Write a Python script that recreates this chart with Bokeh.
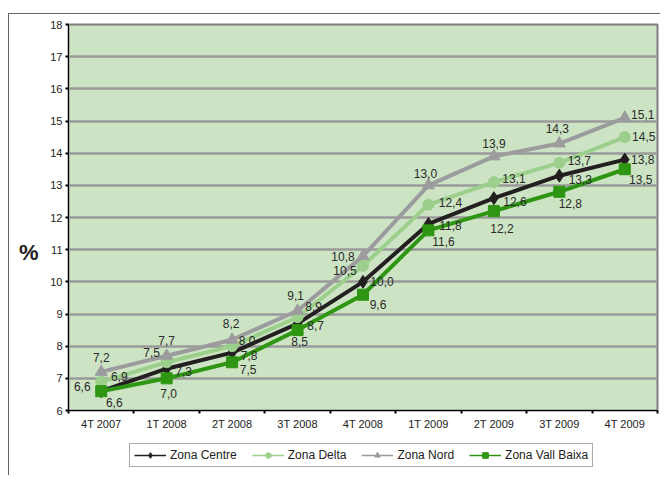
from bokeh.plotting import figure
from bokeh.models import FixedTicker, Legend, LegendItem, ColumnDataSource, LinearAxis
from bokeh.layouts import column
from bokeh.core.properties import value
from bokeh.embed import file_html
from bokeh.resources import INLINE

categories = ["4T 2007", "1T 2008", "2T 2008", "3T 2008", "4T 2008",
              "1T 2009", "2T 2009", "3T 2009", "4T 2009"]
centre = [6.6, 7.3, 7.8, 8.7, 10.0, 11.8, 12.6, 13.3, 13.8]
delta = [6.9, 7.5, 8.0, 8.9, 10.5, 12.4, 13.1, 13.7, 14.5]
nord = [7.2, 7.7, 8.2, 9.1, 10.8, 13.0, 13.9, 14.3, 15.1]
vall_baixa = [6.6, 7.0, 7.5, 8.5, 9.6, 11.6, 12.2, 12.8, 13.5]
y_ticks = list(range(6, 19))
y_title = "%"

# label placement (pixels, screen offsets)
off_centre = [(13, 11), (17, 3), (17, 3), (18, 2), (19, 0), (22, 2), (21, 3), (21, 4), (18, 0)]
off_delta = [(18, -5), (-15, -10), (15, -6), (16, -11), (-18, 5), (22, -2), (20, -4), (20, -2), (19, -1)]
off_nord = [(0, -14), (0, -15), (-1, -16), (-2, -15), (-20, 0), (-3, -12), (0, -13), (-2, -15), (18, -3)]
off_vall = [(-19, -5), (2, 15), (16, 7), (2, 11), (15, 10), (15, 11), (8, 17), (11, 12), (16, 10)]
title_pos = 10.9  # vertical placement of the "%" title, in axis units

FONT = "Liberation Sans"

xs = [i + 0.5 for i in range(len(categories))]

p = figure(width=651, height=426, output_backend="svg", toolbar_location=None,
           x_range=(0, len(categories)), y_range=(6, 18),
           min_border_left=59, min_border_top=10, min_border_right=3, min_border_bottom=30,
           background_fill_color="#cce4c3", border_fill_color="white")
p.outline_line_color = "#7f7f7f"
p.outline_line_width = 2

# axes
p.xaxis.ticker = FixedTicker(ticks=xs, minor_ticks=list(range(len(categories) + 1)))
p.xaxis.major_label_overrides = {x: c for x, c in zip(xs, categories)}
p.xaxis.major_tick_line_color = None
p.xaxis.major_tick_out = 0
p.xaxis.major_tick_in = 0
p.xaxis.minor_tick_line_color = "black"
p.xaxis.minor_tick_line_width = 2
p.xaxis.minor_tick_out = 3
p.xaxis.minor_tick_in = 0
p.xaxis.axis_line_color = "black"
p.xaxis.axis_line_width = 1
p.xaxis.major_label_text_font = FONT
p.xaxis.major_label_text_font_size = "11px"
p.xaxis.major_label_text_color = "#222222"
p.xaxis.major_label_standoff = 4

p.yaxis.ticker = FixedTicker(ticks=y_ticks)
p.yaxis.minor_tick_line_color = None
p.yaxis.major_tick_line_color = "black"
p.yaxis.major_tick_line_width = 2
p.yaxis.major_tick_out = 3
p.yaxis.major_tick_in = 0
p.yaxis.axis_line_color = "black"
p.yaxis.major_label_text_font = FONT
p.yaxis.major_label_text_font_size = "11px"
p.yaxis.major_label_text_color = "#222222"
p.yaxis.major_label_standoff = 3

# "%" title placed lower than centre, as an extra outer left axis
title_axis = LinearAxis(ticker=FixedTicker(ticks=[title_pos]),
                        major_label_overrides={title_pos: y_title},
                        axis_line_color=None, major_tick_line_color=None,
                        minor_tick_line_color=None, major_tick_out=0, major_tick_in=0,
                        major_label_standoff=9,
                        major_label_text_font=FONT, major_label_text_font_size="22px",
                        major_label_text_font_style="bold",
                        major_label_text_color="#222222")
p.add_layout(title_axis, "left")

p.xgrid.grid_line_color = None
p.ygrid.ticker = FixedTicker(ticks=y_ticks)
p.ygrid.grid_line_color = "#9a9a9a"
p.ygrid.grid_line_width = 2.5

series = [
    ("Zona Centre", centre, "#231f20", "diamond", 13, off_centre),
    ("Zona Delta", delta, "#9ccf8c", "circle", 11, off_delta),
    ("Zona Nord", nord, "#9c9c9e", "triangle", 12, off_nord),
    ("Zona Vall Baixa", vall_baixa, "#2e9612", "square", 11, off_vall),
]

for name, vals, color, marker, size, offs in series:
    src = ColumnDataSource(dict(x=xs, y=vals))
    p.line("x", "y", source=src, line_color=color, line_width=4)
    p.scatter("x", "y", source=src, marker=marker, size=size,
              fill_color=color, line_color=color)

for name, vals, color, marker, size, offs in series:
    lsrc = ColumnDataSource(dict(
        x=xs, y=vals,
        t=[("%.1f" % v).replace(".", ",") for v in vals],
        dx=[o[0] for o in offs], dy=[o[1] for o in offs]))
    p.text("x", "y", text="t", source=lsrc, x_offset="dx", y_offset="dy",
           text_align="center", text_baseline="middle",
           text_font=value(FONT), text_font_size="12px", text_color="#2a2a2a")

# legend strip (separate small figure under the chart)
p2 = figure(width=651, height=35, output_backend="svg", toolbar_location=None,
            x_range=(0, 1), y_range=(0, 1), min_border=0,
            x_axis_location=None, y_axis_location=None,
            background_fill_color="white", border_fill_color="white")
p2.outline_line_color = None
p2.grid.grid_line_color = None

items = []
for name, vals, color, marker, size, offs in series:
    hidden = ColumnDataSource(dict(x=[-5], y=[-5]))  # off-range: only the legend glyph shows
    lr = p2.line("x", "y", source=hidden, line_color=color, line_width=1.5)
    mr = p2.scatter("x", "y", source=hidden, marker=marker, size=9,
                    fill_color=color, line_color=color)
    items.append(LegendItem(label=name, renderers=[lr, mr]))

legend = Legend(items=items, orientation="horizontal", location=(61, 8),
                label_text_font=FONT, label_text_font_size="12px",
                label_text_color="#222222",
                glyph_width=32, glyph_height=14, label_height=14,
                label_standoff=4, spacing=15, padding=4, margin=0,
                border_line_color="#555555", border_line_width=1,
                background_fill_color="white", background_fill_alpha=1)
p2.add_layout(legend)

layout = column(p, p2, spacing=0, margin=(13, 0, 0, 8),
                styles={"border-left": "1.5px solid #666666",
                        "border-top": "1.5px solid #666666"})

open("out.html", "w").write(file_html(layout, INLINE))
